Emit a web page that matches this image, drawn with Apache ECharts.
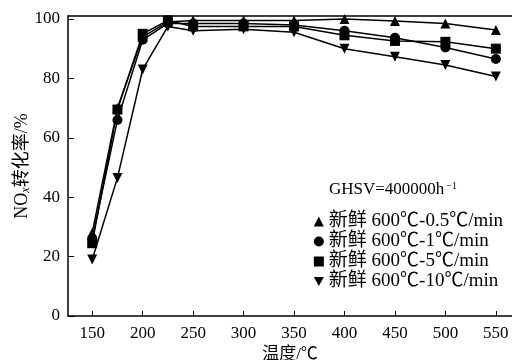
<!DOCTYPE html>
<html>
<head>
<meta charset="utf-8">
<script src="https://cdn.jsdelivr.net/npm/echarts@6/dist/echarts.min.js"></script>
<style>
  html, body { margin: 0; padding: 0; background: #fff; }
  #app { width: 512px; height: 360px; }
</style>
</head>
<body>
<div id="app"></div>
<script>
const temps = [150, 175, 200, 225, 250, 300, 350, 400, 450, 500, 550]
const rate05 = [28, 70, 94, 99, 99.5, 99.5, 99.5, 100, 99.3, 98.5, 96.3]
const rate1 = [26, 66, 93, 98.5, 98.5, 98.5, 98, 96, 93.7, 90.4, 86.5]
const rate5 = [24.5, 69.5, 95, 99.5, 97.5, 97.5, 97.5, 94.5, 92.6, 92.3, 90]
const rate10 = [19, 46.5, 83, 97.5, 96, 96.5, 95.5, 90, 87.3, 84.5, 80.6]
const xTicks = [150, 200, 250, 300, 350, 400, 450, 500, 550]
const yTicks = [0, 20, 40, 60, 80, 100]
const names = ['新鲜 600℃-0.5℃/min', '新鲜 600℃-1℃/min', '新鲜 600℃-5℃/min', '新鲜 600℃-10℃/min']

const serif = '"Liberation Serif", "Noto Sans CJK SC", serif'
const downTri = 'path://M0,0 L10,0 L5,9 Z'
const symbols = ['triangle', 'circle', 'rect', downTri]

const echart = echarts.init(document.getElementById('app'))

function makeSeries(name, vals, sym) {
  return {
    name: name,
    type: 'line',
    data: temps.map((t, i) => [t, vals[i]]),
    symbol: sym,
    symbolSize: 10,
    itemStyle: { color: '#000' },
    lineStyle: { color: '#000', width: 1.5 }
  }
}

echart.setOption({
  animation: false,
  title: {
    text: 'GHSV=400000h{s|−1}',
    right: 50,
    top: 176,
    textStyle: {
      fontFamily: serif,
      fontSize: 17,
      fontWeight: 'normal',
      color: '#000',
      rich: { s: { fontSize: 10, verticalAlign: 'top', padding: [0, 0, 8, 2], fontFamily: serif } }
    }
  },
  legend: {
    orient: 'vertical',
    right: 4,
    top: 207,
    itemWidth: 10,
    itemHeight: 10,
    itemGap: 1,
    textStyle: { fontFamily: serif, fontSize: 19, color: '#000' },
    data: names.map((n, i) => ({ name: n, icon: symbols[i] }))
  },
  grid: { left: 68, top: 16, right: 0, bottom: 44, outerBoundsMode: 'none' },
  xAxis: [
    {
      type: 'value',
      min: 126,
      max: 566,
      name: '温度/℃',
      nameLocation: 'middle',
      nameGap: 30,
      nameMoveOverlap: false,
      nameTextStyle: { fontFamily: serif, fontSize: 17, color: '#000' },
      axisLine: { lineStyle: { color: '#000', width: 1.5 } },
      axisTick: { inside: true, length: 5, customValues: xTicks, lineStyle: { color: '#000' } },
      axisLabel: { customValues: xTicks, fontFamily: serif, fontSize: 17, color: '#000', margin: 9 },
      splitLine: { show: false }
    },
    {
      type: 'value',
      position: 'top',
      min: 126,
      max: 566,
      axisLine: { show: true, onZero: false, lineStyle: { color: '#000', width: 1.5 } },
      axisTick: { show: false },
      axisLabel: { show: false },
      splitLine: { show: false }
    }
  ],
  yAxis: {
    type: 'value',
    min: 0,
    max: 101,
    name: '{a|NO}{b|x}{a|转化率/%}',
    nameLocation: 'middle',
    nameGap: 36,
    nameMoveOverlap: false,
    nameTextStyle: {
      color: '#000',
      rich: {
        a: { fontFamily: serif, fontSize: 18, color: '#000' },
        b: { fontFamily: serif, fontSize: 12, fontStyle: 'italic', color: '#000', verticalAlign: 'bottom', padding: [7, 0, 0, 0] }
      }
    },
    axisLine: { show: true, lineStyle: { color: '#000', width: 1.5 } },
    axisTick: { show: true, inside: true, length: 6, customValues: yTicks, lineStyle: { color: '#000' } },
    axisLabel: { customValues: yTicks, fontFamily: serif, fontSize: 17, color: '#000', margin: 8 },
    splitLine: { show: false }
  },
  series: [
    makeSeries(names[0], rate05, symbols[0]),
    makeSeries(names[1], rate1, symbols[1]),
    makeSeries(names[2], rate5, symbols[2]),
    makeSeries(names[3], rate10, symbols[3])
  ]
})
</script>
</body>
</html>
